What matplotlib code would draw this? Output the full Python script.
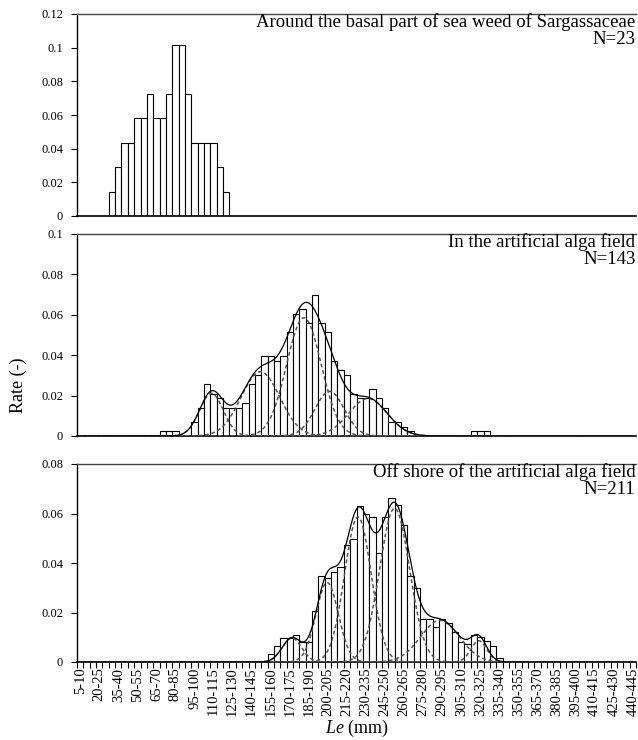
import numpy as np
import matplotlib
matplotlib.use("Agg")
import matplotlib.pyplot as plt

# ---------------- data ----------------
bin_starts = list(range(5, 445, 5))                      # 5-10 ... 440-445
categories = [f"{s}-{s+5}" for s in bin_starts]

# panel 1 : Around the basal part of sea weed of Sargassaceae (N=23)
p1_first_bin = 5                                         # 30-35
p1_rates = [0.0145, 0.0290, 0.0435, 0.0435, 0.0580, 0.0580, 0.0725, 0.0580,
            0.0580, 0.0725, 0.1014, 0.1014, 0.0725, 0.0435, 0.0435, 0.0435,
            0.0435, 0.0290, 0.0145]

# panel 2 : In the artificial alga field (N=143)
p2_rates_a_first = 13                                    # 70-75
p2_rates_a = [0.0023, 0.0023, 0.0023]
p2_rates_b_first = 18                                    # 95-100
p2_rates_b = [0.0070, 0.0140, 0.0256, 0.0210, 0.0186, 0.0140, 0.0140, 0.0140,
              0.0163, 0.0256, 0.0303, 0.0396, 0.0396, 0.0373, 0.0396, 0.0513,
              0.0606, 0.0629, 0.0559, 0.0699, 0.0559, 0.0513, 0.0373, 0.0326,
              0.0303, 0.0210, 0.0186, 0.0186, 0.0233, 0.0186, 0.0140, 0.0070,
              0.0070, 0.0047, 0.0023]
p2_rates_c_first = 62                                    # 315-320
p2_rates_c = [0.0023, 0.0023, 0.0023]
# normal components (mean mm, sd mm, peak rate)
p2_means = [110.8, 149.4, 183.6, 203.8, 234.0]
p2_sds = [9.3, 15.2, 13.6, 11.5, 15.2]
p2_peaks = [0.0211, 0.0318, 0.0585, 0.0221, 0.0185]

# panel 3 : Off shore of the artificial alga field (N=211)
p3_first_bin = 30                                        # 155-160
p3_rates = [0.0032, 0.0063, 0.0095, 0.0098, 0.0111, 0.0079, 0.0079, 0.0205,
            0.0348, 0.0341, 0.0363, 0.0385, 0.0474, 0.0495, 0.0632, 0.0600,
            0.0585, 0.0442, 0.0585, 0.0664, 0.0635, 0.0553, 0.0348, 0.0300,
            0.0174, 0.0174, 0.0142, 0.0174, 0.0158, 0.0123, 0.0079, 0.0072,
            0.0111, 0.0101, 0.0085, 0.0063, 0.0016]
p3_means = [174.1, 201.9, 226.1, 255.0, 290.7, 321.3]
p3_sds = [7.6, 8.8, 10.5, 11.8, 15.3, 6.2]
p3_peaks = [0.0097, 0.0321, 0.0586, 0.0621, 0.0168, 0.0086]

titles = ["Around the basal part of sea weed of Sargassaceae",
          "In the artificial alga field",
          "Off shore of the artificial alga field"]
n_labels = ["N=23", "N=143", "N=211"]
y_max = [0.12, 0.1, 0.08]
y_step = 0.02

# ---------------- drawing ----------------
plt.rcParams['font.family'] = ['Liberation Serif', 'DejaVu Serif']
plt.rcParams['mathtext.fontset'] = 'custom'
plt.rcParams['mathtext.rm'] = 'Liberation Serif'
plt.rcParams['mathtext.it'] = 'Liberation Serif:italic'
fig = plt.figure(figsize=(6.38, 7.40), dpi=100)

W, H = 638, 740
left_px, right_px = 77, 636
panels_px = [(14, 216), (234, 436), (464, 662)]
axes = []
for top, bot in panels_px:
    ax = fig.add_axes([left_px / W, 1 - bot / H, (right_px - left_px) / W, (bot - top) / H])
    axes.append(ax)

ncat = len(categories)
xc = np.arange(ncat)


def draw_bars(ax, first, rates):
    pos = np.arange(first, first + len(rates))
    ax.bar(pos, rates, width=1.0, color='white', edgecolor='black', linewidth=0.8, zorder=2)


def mm_to_pos(mm):
    return (mm - 7.5) / 5.0


def draw_curves(ax, means, sds, peaks):
    xmm = np.linspace(7.5, 7.5 + 5 * (ncat - 1), 1500)
    total = np.zeros_like(xmm)
    for m, s, p in zip(means, sds, peaks):
        g = p * np.exp(-0.5 * ((xmm - m) / s) ** 2)
        total += g
        ax.plot(mm_to_pos(xmm), g, color='#555555', linestyle=(0, (2.5, 1.8)), linewidth=1.1, zorder=3)
    ax.plot(mm_to_pos(xmm), total, color='black', linewidth=0.9, zorder=4)


draw_bars(axes[0], p1_first_bin, p1_rates)
draw_bars(axes[1], p2_rates_a_first, p2_rates_a)
draw_bars(axes[1], p2_rates_b_first, p2_rates_b)
draw_bars(axes[1], p2_rates_c_first, p2_rates_c)
draw_curves(axes[1], p2_means, p2_sds, p2_peaks)
draw_bars(axes[2], p3_first_bin, p3_rates)
draw_curves(axes[2], p3_means, p3_sds, p3_peaks)

for k, ax in enumerate(axes):
    ax.set_xlim(-0.5, ncat - 0.5)
    ax.set_ylim(0, y_max[k])
    yt = np.round(np.arange(0, y_max[k] + 1e-9, y_step), 2)
    ax.set_yticks(yt)
    ax.set_yticklabels([f"{v:g}" for v in yt], fontsize=9)
    ax.spines['right'].set_visible(False)
    ax.spines['top'].set_color('#444444')
    ax.spines['top'].set_linewidth(1.0)
    ax.spines['left'].set_linewidth(1.0)
    ax.spines['bottom'].set_linewidth(1.2)
    ax.tick_params(axis='y', direction='out', length=4, width=0.8, pad=6)
    ax.set_xticks(np.arange(-0.5, ncat, 1.0), minor=True)
    ax.tick_params(axis='x', which='minor', direction='out', length=4, width=0.8)
    ax.set_xticks(xc[::3])
    ax.tick_params(axis='x', which='major', length=0)
    if k < 2:
        ax.set_xticklabels([])
        ax.tick_params(axis='x', which='minor', length=0)
    else:
        ax.set_xticklabels(categories[::3], rotation=90, fontsize=10.5)
        ax.tick_params(axis='x', which='major', pad=4)
    top_px, bot_px = panels_px[k]
    hgt = bot_px - top_px
    ax.text(0.999, 1 - 8 / hgt, titles[k], transform=ax.transAxes, ha='right', va='center', fontsize=13.5)
    ax.text(0.999, 1 - 26 / hgt, n_labels[k], transform=ax.transAxes, ha='right', va='center', fontsize=13.5)

axes[2].set_xlabel(r"$\mathit{Le}$ (mm)", fontsize=13, labelpad=1)
fig.text(18 / W, 1 - 385 / H, "Rate (-)", rotation=90, ha='center', va='center', fontsize=13)

fig.savefig("out.png", dpi=100)
